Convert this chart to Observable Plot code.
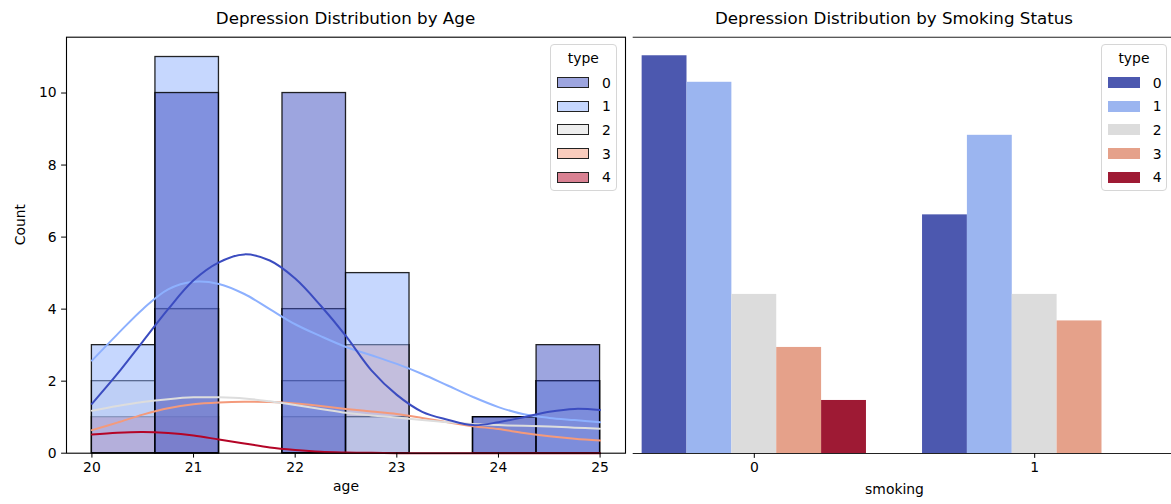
<!DOCTYPE html>
<html><head><meta charset="utf-8">
<script src="https://cdn.jsdelivr.net/npm/d3@7"></script>
<script src="https://cdn.jsdelivr.net/npm/@observablehq/plot@0.6"></script>
<style>
body{margin:0;background:#fff;font-family:"DejaVu Sans",sans-serif;}
#wrap{position:relative;width:1171px;height:504px;overflow:hidden;background:#fff;}
#wrap svg{position:absolute;top:0;}
.title{position:absolute;top:8px;font-size:16.7px;line-height:20px;color:#000;white-space:nowrap;transform:translateX(-50%);}
.legend{position:absolute;background:rgba(255,255,255,0.8);border:1px solid #d6d6d6;border-radius:4px;box-sizing:border-box;font-size:13.9px;color:#000;}
.legend .lt{position:absolute;left:0;right:0;top:4px;text-align:center;line-height:18px;}
.legend .sw{position:absolute;box-sizing:border-box;}
.legend .lb{position:absolute;line-height:16px;}
</style></head><body><div id="wrap"></div>
<script>
// ---------- data ----------
const types = [0, 1, 2, 3, 4];
const ageBinEdges = [20, 20.625, 21.25, 21.875, 22.5, 23.125, 23.75, 24.375, 25];
const ageTicks = [20, 21, 22, 23, 24, 25];
const countTicks = [0, 2, 4, 6, 8, 10];
// histogram counts per bin, per type
const histType0 = [0, 10, 0, 10, 0, 0, 1, 3];
const histType1 = [3, 11, 0, 4, 5, 0, 1, 2];
const histType2 = [2, 4, 0, 2, 1, 0, 1, 2];
const histType3 = [0, 4, 0, 1, 3, 0, 1, 0];
const histType4 = [1, 1, 0, 0, 0, 0, 0, 0];
// kde curves
const kdeAge = [20, 20.25, 20.5, 20.75, 21, 21.25, 21.5, 21.75, 22, 22.25, 22.5, 22.75, 23, 23.25, 23.5, 23.75, 24, 24.25, 24.5, 24.75, 25];
const kdeType0 = [1.37, 2.2, 3.1, 4.0, 4.8, 5.3, 5.52, 5.35, 4.85, 4.1, 3.25, 2.3, 1.62, 1.15, 0.93, 0.78, 0.86, 1.0, 1.15, 1.23, 1.2];
const kdeType1 = [2.57, 3.3, 4.0, 4.55, 4.76, 4.7, 4.42, 4.0, 3.58, 3.25, 2.95, 2.72, 2.48, 2.2, 1.88, 1.56, 1.28, 1.08, 0.98, 0.92, 0.86];
const kdeType2 = [1.18, 1.31, 1.42, 1.5, 1.55, 1.55, 1.52, 1.44, 1.34, 1.23, 1.12, 1.05, 0.99, 0.92, 0.86, 0.81, 0.78, 0.76, 0.74, 0.71, 0.68];
const kdeType3 = [0.64, 0.85, 1.07, 1.25, 1.36, 1.41, 1.43, 1.42, 1.38, 1.31, 1.23, 1.16, 1.09, 0.98, 0.86, 0.75, 0.67, 0.56, 0.47, 0.4, 0.35];
const kdeType4 = [0.52, 0.57, 0.59, 0.56, 0.49, 0.38, 0.27, 0.16, 0.09, 0.04, 0.02, 0.01, 0, 0, 0, 0, 0, 0, 0, 0, 0];
// smoking bar chart
const smokingCats = [0, 1];
const smokingCounts0 = [15, 14, 6, 4, 2];
const smokingCounts1 = [9, 12, 6, 5, 0];

// ---------- styling ----------
const histColors = ["#3b4cc0", "#8db0fe", "#dddddd", "#f49a7b", "#b40426"];
const barColors = ["#4c58af", "#9bb5f0", "#dcdcdc", "#e5a18a", "#9e1a34"];
const font = {background: "transparent", fontFamily: "DejaVu Sans", fontSize: "13.9px", color: "#000", overflow: "visible"};

const histByType = [histType0, histType1, histType2, histType3, histType4];
const kdeByType = [kdeType0, kdeType1, kdeType2, kdeType3, kdeType4];
const histRows = [];
const kdeRows = [];
for (let t = types.length - 1; t >= 0; t--) {
  histByType[t].forEach((c, i) => { if (c > 0) histRows.push({type: types[t], x1: ageBinEdges[i], x2: ageBinEdges[i + 1], count: c}); });
  kdeByType[t].forEach((v, i) => kdeRows.push({type: types[t], age: kdeAge[i], value: v}));
}
const barRows = [];
[smokingCounts0, smokingCounts1].forEach((arr, s) => arr.forEach((c, t) => { if (c > 0) barRows.push({smoking: smokingCats[s], type: types[t], count: c}); }));
const dodge = 0.8 / types.length;

const wrap = document.getElementById("wrap");

const leftYMax = 11.55;
const left = Plot.plot({
  width: 630, height: 504,
  marginLeft: 66, marginRight: 5, marginTop: 36.7, marginBottom: 51.3,
  style: font,
  x: {domain: [19.75, 25.25]},
  y: {domain: [0, leftYMax]},
  color: {type: "ordinal", domain: types, range: histColors},
  marks: [
    Plot.rectY(histRows, {x1: "x1", x2: "x2", y1: 0, y2: "count", fill: "type", fillOpacity: 0.5, stroke: "#000", strokeOpacity: 0.85, strokeWidth: 1.3}),
    Plot.line(kdeRows, {x: "age", y: "value", z: "type", stroke: "type", strokeWidth: 2, curve: "catmull-rom"}),
    Plot.frame({stroke: "#000", strokeWidth: 1.1}),
    Plot.axisY({ticks: countTicks, tickSize: 4.9, tickPadding: 5, tickFormat: d => String(d), label: null}),
    Plot.axisX({ticks: ageTicks, tickSize: 4.9, tickPadding: 4, tickFormat: d => String(d), label: null}),
    Plot.text(["Count"], {frameAnchor: "left", dx: -46, rotate: -90, text: d => d, fontSize: 13.9}),
    Plot.text(["age"], {frameAnchor: "bottom", dy: 38, text: d => d, fontSize: 13.9})
  ]
});
left.style.left = "0px";
wrap.appendChild(left);

const rightYMax = 15.7;
const right = Plot.plot({
  width: 571, height: 504,
  marginLeft: 32.7, marginRight: 0, marginTop: 36.7, marginBottom: 51,
  style: font,
  x: {domain: [-0.5, 1.5], range: [13.6, 574.4]},
  y: {domain: [0, rightYMax], axis: null},
  color: {type: "ordinal", domain: types, range: barColors},
  marks: [
    Plot.rectY(barRows, {x1: d => d.smoking - 0.4 + d.type * dodge, x2: d => d.smoking - 0.4 + (d.type + 1) * dodge, y1: 0, y2: "count", fill: "type"}),
    Plot.ruleY([0], {stroke: "#222", strokeWidth: 1.1}),
    Plot.ruleY([rightYMax], {stroke: "#222", strokeWidth: 1.1}),
    Plot.axisX({ticks: smokingCats, tickSize: 4.9, tickPadding: 4, tickFormat: d => String(d), label: null}),
    Plot.text(["smoking"], {x: () => 0.5, frameAnchor: "bottom", dy: 40, text: d => d, fontSize: 13.9})
  ]
});
right.style.left = "600px";
wrap.appendChild(right);

// titles
function addTitle(text, cx) {
  const d = document.createElement("div");
  d.className = "title"; d.textContent = text; d.style.left = cx + "px";
  wrap.appendChild(d);
}
addTitle("Depression Distribution by Age", 345.5);
addTitle("Depression Distribution by Smoking Status", 894);

// legends
function addLegend(x, colors, outlined) {
  const box = document.createElement("div");
  box.className = "legend";
  box.style.left = x + "px"; box.style.top = "44px";
  box.style.width = "66.5px"; box.style.height = "147px";
  const t = document.createElement("div"); t.className = "lt"; t.textContent = "type"; box.appendChild(t);
  types.forEach((ty, i) => {
    const sw = document.createElement("div"); sw.className = "sw";
    sw.style.left = "6px"; sw.style.top = (32 + i * 23.7) + "px";
    sw.style.width = "32px"; sw.style.height = "11px";
    sw.style.background = colors[i];
    if (outlined) { sw.style.background = d3.color(colors[i]).copy({opacity: 0.5}).formatRgb(); sw.style.border = "1.3px solid #222"; }
    box.appendChild(sw);
    const lb = document.createElement("div"); lb.className = "lb";
    lb.style.left = "51px"; lb.style.top = (29.5 + i * 23.7) + "px";
    lb.textContent = String(ty);
    box.appendChild(lb);
  });
  wrap.appendChild(box);
}
addLegend(550, histColors, true);
addLegend(1100.7, barColors, false);
</script></body></html>
